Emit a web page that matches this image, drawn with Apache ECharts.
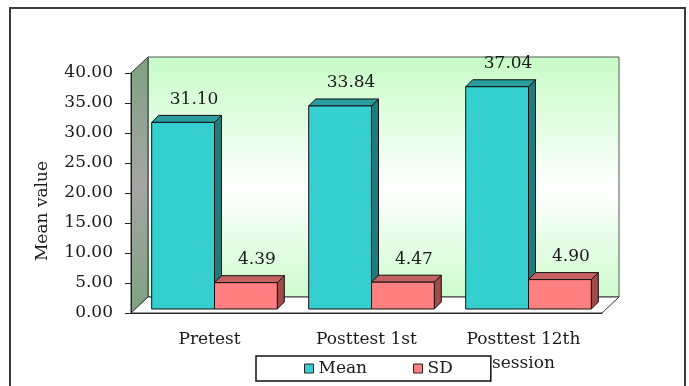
<!DOCTYPE html>
<html>
<head>
<meta charset="utf-8">
<script src="https://cdn.jsdelivr.net/npm/echarts@6/dist/echarts.min.js"></script>
<style>
    html, body {margin: 0; padding: 0; background: #fff;}
    #chart {width: 689px; height: 386px;}
</style>
</head>
<body>
<div id="chart"></div>
<script>
//分类和数据
var categories = ['Pretest', 'Posttest 1st', 'Posttest 12th\nsession'];
var meanValues = [31.10, 33.84, 37.04];
var sdValues = [4.39, 4.47, 4.90];
var yTicks = [0, 5, 10, 15, 20, 25, 30, 35, 40];

//绘图区位置
var gL = 131, gT = 73, gW = 471, gH = 240;
var depthX = 17, depthY = 16;
var font = '17px "DejaVu Serif"';

//3D柱子
function barRenderer(face, topC, sideC, side) {
    return function (params, api) {
        var i = api.value(0), v = api.value(1);
        var base = api.coord([i, 0]);
        var top = api.coord([i, v]);
        var cw = api.size([1, 0])[0];
        var bw = cw * 0.4;
        var cx = base[0] + 5;
        var x0 = side < 0 ? cx - bw : cx;
        var x1 = x0 + bw;
        var yb = base[1] - 4, yt = top[1] - 4;
        var d = 7;
        var stroke = {stroke: '#111', lineWidth: 1};
        return {
            type: 'group',
            children: [
                {type: 'polygon', shape: {points: [[x1, yt], [x1 + d, yt - d], [x1 + d, yb - d], [x1, yb]]},
                    style: Object.assign({fill: sideC}, stroke)},
                {type: 'polygon', shape: {points: [[x0, yt], [x1, yt], [x1 + d, yt - d], [x0 + d, yt - d]]},
                    style: Object.assign({fill: topC}, stroke)},
                {type: 'rect', shape: {x: x0, y: yt, width: bw, height: yb - yt},
                    style: Object.assign({fill: face}, stroke)},
                {type: 'text', x: (x0 + x1) / 2 + 11, y: yt - 23,
                    style: {text: v.toFixed(2), font: font, fill: '#1a1a1a', align: 'center', verticalAlign: 'middle'}}
            ]
        };
    };
}

function toData(arr) {
    var out = [];
    for (var i = 0; i < arr.length; i++) {
        out.push([i, arr[i]]);
    }
    return out;
}

var chart = echarts.init(document.getElementById('chart'));

var option = {
    animation: false,
    grid: {left: gL, top: gT, width: gW, height: gH},
    graphic: {
        elements: [
            //外框
            {type: 'rect', z: -10, shape: {x: 10, y: 8, width: 675, height: 400},
                style: {fill: 'none', stroke: '#3a3a3a', lineWidth: 2}},
            //背景墙
            {type: 'rect', z: -10, shape: {x: gL + depthX, y: gT - depthY, width: gW, height: gH},
                style: {
                    stroke: '#555', lineWidth: 1,
                    fill: new echarts.graphic.LinearGradient(0, 0, 0, 1, [
                        {offset: 0, color: '#c6fcc6'},
                        {offset: 0.55, color: '#ffffff'},
                        {offset: 1, color: '#cdfacd'}
                    ])
                }},
            //左侧墙
            {type: 'polygon', z: -10,
                shape: {points: [[gL, gT + gH], [gL, gT], [gL + depthX, gT - depthY], [gL + depthX, gT + gH - depthY]]},
                style: {
                    stroke: '#333', lineWidth: 1,
                    fill: new echarts.graphic.LinearGradient(0, 0, 0, 1, [
                        {offset: 0, color: '#7fa27f'},
                        {offset: 0.5, color: '#a5a5a5'},
                        {offset: 1, color: '#7fa27f'}
                    ])
                }},
            //底面
            {type: 'polygon', z: -10,
                shape: {points: [[gL, gT + gH], [gL + gW, gT + gH], [gL + gW + depthX, gT + gH - depthY], [gL + depthX, gT + gH - depthY]]},
                style: {fill: '#fff', stroke: '#333', lineWidth: 1}}
        ]
    },
    legend: {
        left: 256,
        top: 356,
        padding: [4, 38, 4, 48],
        borderColor: '#111',
        borderWidth: 1.5,
        itemWidth: 9,
        itemHeight: 9,
        itemGap: 46,
        icon: 'rect',
        itemStyle: {borderColor: '#222', borderWidth: 1},
        textStyle: {fontFamily: 'DejaVu Serif', fontSize: 17, color: '#1a1a1a'},
        data: ['Mean', 'SD']
    },
    xAxis: {
        type: 'category',
        data: categories,
        axisLine: {lineStyle: {color: '#222', width: 1}},
        axisTick: {length: 9, lineStyle: {color: '#222'}},
        axisLabel: {
            margin: 15,
            fontFamily: 'DejaVu Serif',
            fontSize: 17,
            lineHeight: 24,
            color: '#1a1a1a'
        }
    },
    yAxis: {
        type: 'value',
        min: yTicks[0],
        max: yTicks[yTicks.length - 1],
        interval: 5,
        name: 'Mean value',
        nameLocation: 'middle',
        nameRotate: 90,
        nameGap: 80,
        nameTextStyle: {fontFamily: 'DejaVu Serif', fontSize: 17, color: '#1a1a1a', padding: [0, 36, 0, 0]},
        axisLine: {show: true, lineStyle: {color: '#222', width: 1}},
        axisTick: {show: true, length: 6, lineStyle: {color: '#222'}},
        splitLine: {show: false},
        axisLabel: {
            margin: 18,
            fontFamily: 'DejaVu Serif',
            fontSize: 17,
            color: '#1a1a1a',
            formatter: function (v) {
                return v.toFixed(2);
            }
        }
    },
    series: [
        {
            name: 'Mean',
            type: 'custom',
            itemStyle: {color: '#36cfcf'},
            renderItem: barRenderer('#36cfcf', '#2a9e9e', '#1e7c7c', -1),
            encode: {x: 0, y: 1},
            data: toData(meanValues)
        },
        {
            name: 'SD',
            type: 'custom',
            itemStyle: {color: '#ff8080'},
            renderItem: barRenderer('#ff8080', '#c46262', '#a14a4a', 1),
            encode: {x: 0, y: 1},
            data: toData(sdValues)
        }
    ]
};

chart.setOption(option);
</script>
</body>
</html>
